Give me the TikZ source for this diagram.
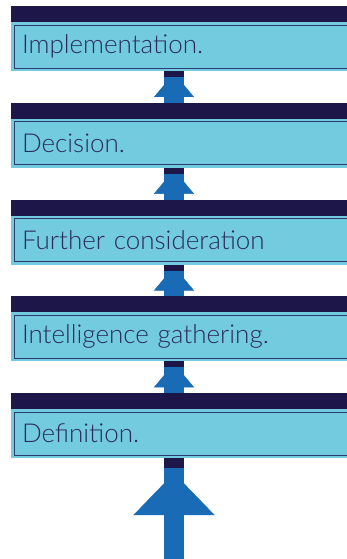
\documentclass[tikz,border=0pt]{standalone}
\usepackage{fontspec}
\setmainfont{Lato}[UprightFont={* Light}]
\usetikzlibrary{positioning,arrows.meta}
\definecolor{barnavy}{RGB}{29,22,72}
\definecolor{stagefill}{RGB}{114,203,222}
\definecolor{stageline}{RGB}{44,60,114}
\definecolor{stagetext}{RGB}{43,43,91}
\definecolor{riseblue}{RGB}{26,107,181}

\begin{document}
\begin{tikzpicture}[
    stage/.style={rectangle, draw=stageline, line width=0.8pt, fill=stagefill,
        preaction={draw=stagefill, line width=6pt},
        outer sep=3pt, inner xsep=8pt, inner ysep=0pt,
        minimum width=346pt, minimum height=43pt, text width=330pt, align=left,
        text=stagetext, font=\fontsize{26}{30}\selectfont},
    bar/.style={rectangle, fill=barnavy, inner sep=0pt, outer sep=0pt,
        minimum width=352pt, minimum height=16pt},
    tab/.style={rectangle, fill=barnavy, inner sep=0pt, outer sep=0pt,
        minimum width=20pt, minimum height=6pt, anchor=north},
    rise/.style={draw=riseblue, line width=20pt,
        postaction={draw=riseblue, line width=0.4pt, shorten >=2pt,
            -{Triangle[width=40pt,length=24pt]}}},
    bigrise/.style={draw=riseblue, line width=20pt,
        postaction={draw=riseblue, line width=0.4pt, shorten >=15pt,
            -{Triangle[width=81pt,length=42pt]}}}
]
    \useasboundingbox (0,0) rectangle (347pt,-559pt);
    \coordinate (spine) at (174pt,0);
    \coordinate (base) at (174pt,-559pt);

    % the five stages, top to bottom
    \node[stage, anchor=north west] (impl) at (11pt,-22pt) {Implementation.};
    \node[stage, below=47.75pt of impl] (decision) {Decision.};
    \node[stage, below=47.75pt of decision] (further) {Further consideration};
    \node[stage, below=47.75pt of further] (intel) {Intelligence gathering.};
    \node[stage, below=47.75pt of intel] (definition) {Definition.};

    \node[bar, above=0pt of impl] (impl-bar) {};
    \node[bar, above=0pt of decision] (decision-bar) {};
    \node[bar, above=0pt of further] (further-bar) {};
    \node[bar, above=0pt of intel] (intel-bar) {};
    \node[bar, above=0pt of definition] (definition-bar) {};

    % arrows pointing up from each stage to the next
    \draw[rise] (decision-bar.north -| spine) -- (impl.south -| spine);
    \draw[rise] (further-bar.north -| spine) -- (decision.south -| spine);
    \draw[rise] (intel-bar.north -| spine) -- (further.south -| spine);
    \draw[rise] (definition-bar.north -| spine) -- (intel.south -| spine);
    \draw[bigrise] (base) -- (definition.south -| spine);

    \node[tab] (impl-tab) at (impl.south -| spine) {};
    \node[tab] (decision-tab) at (decision.south -| spine) {};
    \node[tab] (further-tab) at (further.south -| spine) {};
    \node[tab] (intel-tab) at (intel.south -| spine) {};
    \node[tab, minimum height=10pt] (definition-tab) at (definition.south -| spine) {};
\end{tikzpicture}
\end{document}
